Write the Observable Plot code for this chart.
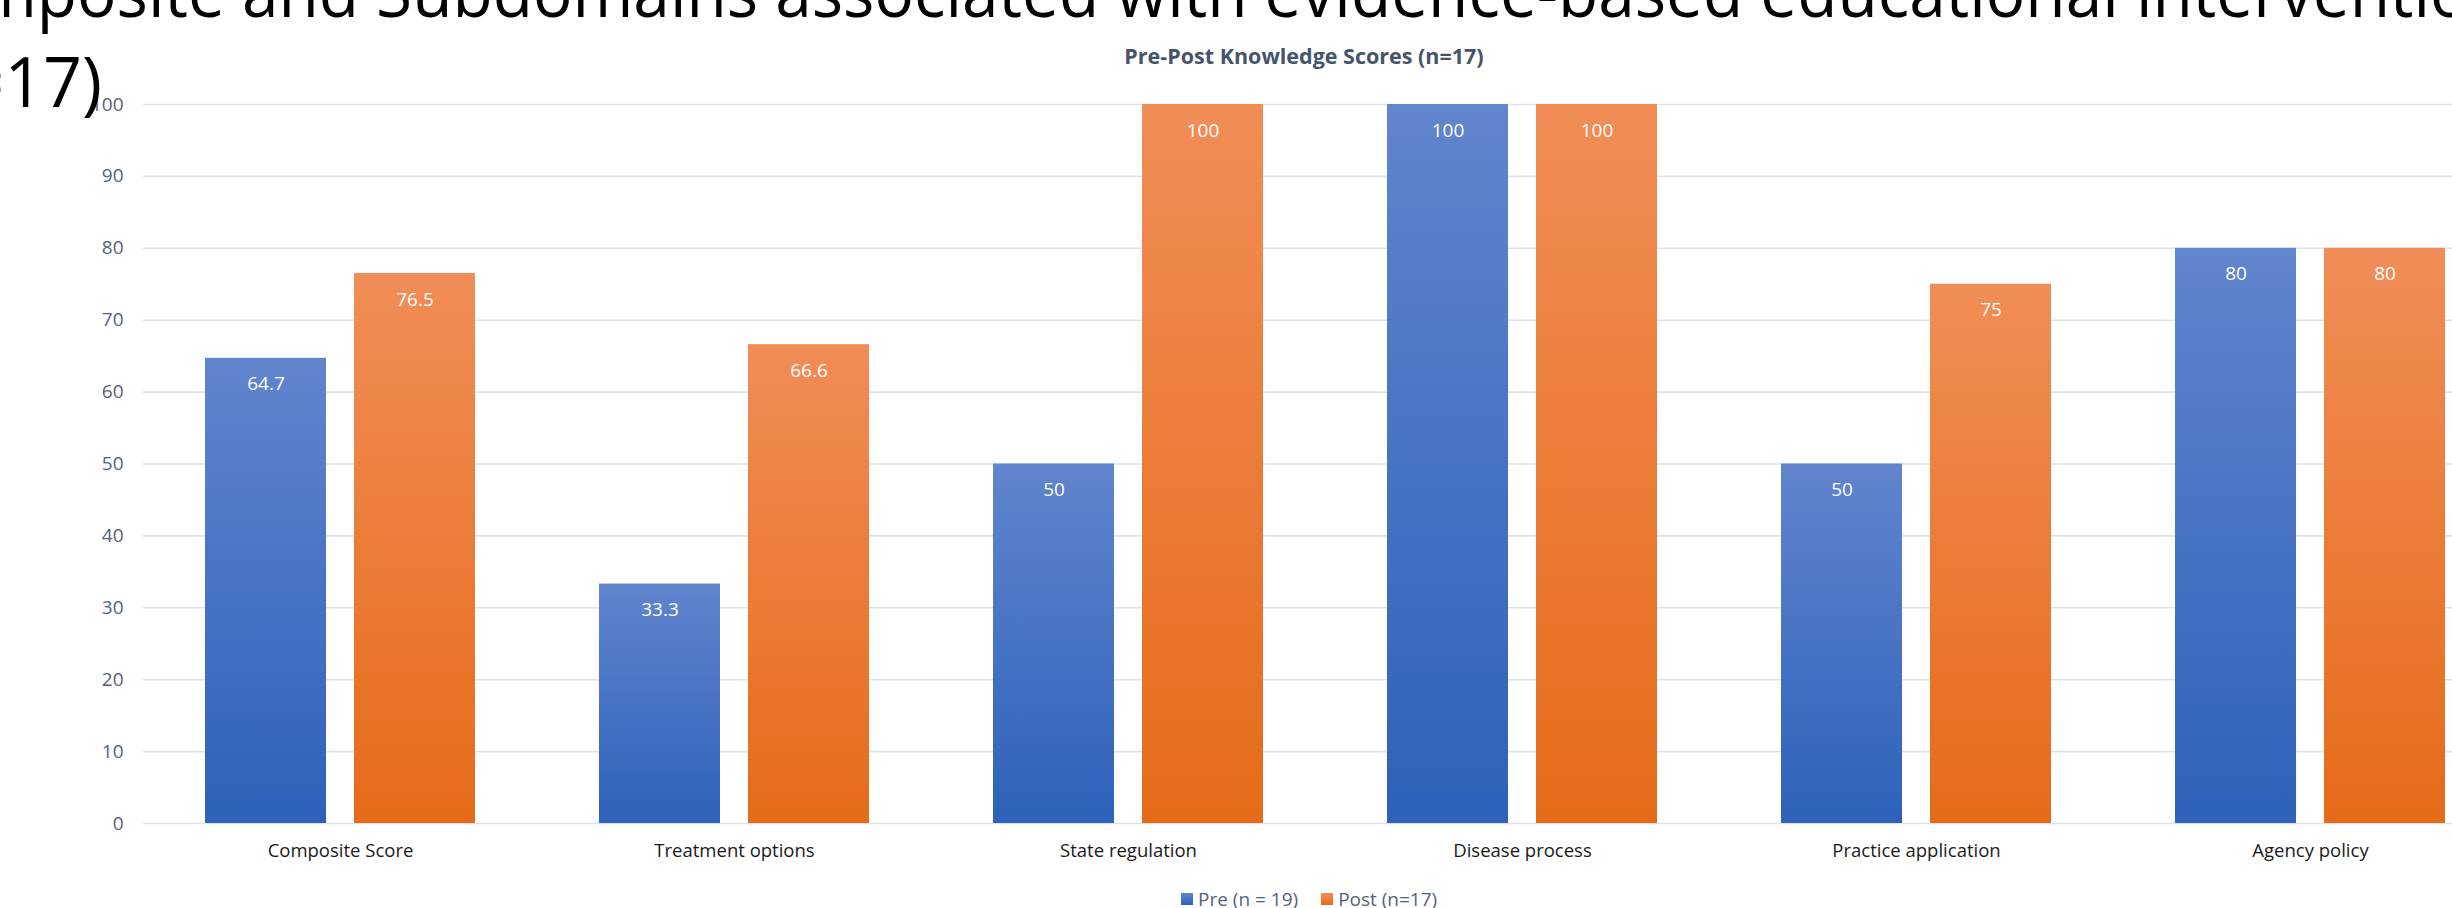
<!DOCTYPE html>
<html><head><meta charset="utf-8">
<script src="https://cdn.jsdelivr.net/npm/d3@7"></script>
<script src="https://cdn.jsdelivr.net/npm/@observablehq/plot@0.6"></script>
<style>
html,body{margin:0;padding:0;overflow:hidden;background:#fff;width:2452px;height:908px}
#wrap{position:relative;width:2452px;height:908px;overflow:hidden}
#chart{position:absolute;left:0;top:0;width:2507px;height:908px}
#chart svg{max-width:none !important;width:2507px;height:908px}
#overlay{position:absolute;left:0;top:0;pointer-events:none;overflow:visible}
#legend{position:absolute;top:887px;left:1181px;font-family:"Open Sans",sans-serif;font-size:19px;line-height:24px;color:#55627A;display:flex;align-items:center;white-space:nowrap}
#legend .item{display:flex;align-items:center;margin-right:23px}
#legend .sw{display:inline-block;width:12px;height:12px;margin-right:5px}
</style></head>
<body>
<svg width="0" height="0" style="position:absolute">
  <defs>
    <linearGradient id="gradPre" x1="0" y1="0" x2="0" y2="1">
      <stop offset="0" stop-color="#6185CD"/>
      <stop offset="1" stop-color="#2E61BA"/>
    </linearGradient>
    <linearGradient id="gradPost" x1="0" y1="0" x2="0" y2="1">
      <stop offset="0" stop-color="#F18D57"/>
      <stop offset="1" stop-color="#E56B18"/>
    </linearGradient>
  </defs>
</svg>
<div id="wrap">
  <div id="chart"></div>
  <svg id="overlay" width="2452" height="908"></svg>
  <div id="legend"></div>
</div>
<script>
const categories = ["Composite Score", "Treatment options", "State regulation", "Disease process", "Practice application", "Agency policy"];
const preValues = [64.7, 33.3, 50, 100, 50, 80];
const postValues = [76.5, 66.6, 100, 100, 75, 80];
const seriesKeys = ["Pre", "Post"];
const seriesNames = ["Pre (n = 19)", "Post (n=17)"];
const seriesFills = ["url(#gradPre)", "url(#gradPost)"];
const yTicks = [0, 10, 20, 30, 40, 50, 60, 70, 80, 90, 100];
const chartTitle = "Pre-Post Knowledge Scores (n=17)";
const titleLines = ["Composite and Subdomains associated with evidence-based educational intervention", "(n=17)"];

const rows = categories.flatMap((c, i) => [
  {category: c, series: "Pre", value: preValues[i]},
  {category: c, series: "Post", value: postValues[i]}
]);

const plot = Plot.plot({
  width: 2507,
  height: 908,
  marginLeft: 143,
  marginRight: 0,
  marginTop: 104,
  marginBottom: 85,
  style: {fontFamily: '"Open Sans", sans-serif', background: "transparent", overflow: "visible", maxWidth: "none"},
  fx: {domain: categories, padding: 0, axis: null},
  x: {domain: seriesKeys, paddingInner: 0.1867, paddingOuter: 0.4067, axis: null},
  y: {domain: [0, 100], axis: null},
  marks: [
    Plot.ruleY(yTicks, {y: d => d, stroke: "#DEE2E9", strokeWidth: 1.6}),
    ...seriesKeys.map((k, j) => Plot.barY(rows.filter(d => d.series === k), {
      fx: "category", x: "series", y: "value", fill: seriesFills[j]
    })),
    Plot.text(rows, {
      fx: "category", x: "series", y: "value",
      text: d => String(d.value), dy: 26, fill: "white", fontSize: 19
    }),
    Plot.text(categories, {
      fx: d => d, text: d => d, frameAnchor: "bottom", lineAnchor: "middle", dy: 28,
      fontSize: 18.5, fill: "#1a1a1a"
    }),
    Plot.axisY({ticks: yTicks, tickSize: 0, tickPadding: 20, fontSize: 19, fill: "#55627A", label: null})
  ]
});
document.getElementById("chart").appendChild(plot);

// Overlay titles
const ov = d3.select("#overlay");
ov.append("text")
  .attr("x", -105).attr("y", 17)
  .attr("font-family", '"Open Sans", sans-serif')
  .attr("font-size", 70)
  .attr("fill", "#000")
  .attr("textLength", 2615)
  .attr("lengthAdjust", "spacingAndGlyphs")
  .text(titleLines[0]);
ov.append("text")
  .attr("x", -96).attr("y", 107)
  .attr("font-family", '"Open Sans", sans-serif')
  .attr("font-size", 70)
  .attr("fill", "#000")
  .attr("textLength", 198)
  .attr("lengthAdjust", "spacingAndGlyphs")
  .text(titleLines[1]);
ov.append("text")
  .attr("x", 1304).attr("y", 64)
  .attr("text-anchor", "middle")
  .attr("font-family", '"Open Sans", sans-serif')
  .attr("font-weight", 700)
  .attr("font-size", 21.5)
  .attr("fill", "#44546A")
  .text(chartTitle);

// Legend
const lg = d3.select("#legend");
seriesNames.forEach((name, j) => {
  const it = lg.append("div").attr("class", "item");
  it.append("span").attr("class", "sw").style("background", j === 0 ? "linear-gradient(#6185CD,#2E61BA)" : "linear-gradient(#F18D57,#E56B18)");
  it.append("span").text(name);
});
</script>
</body></html>
